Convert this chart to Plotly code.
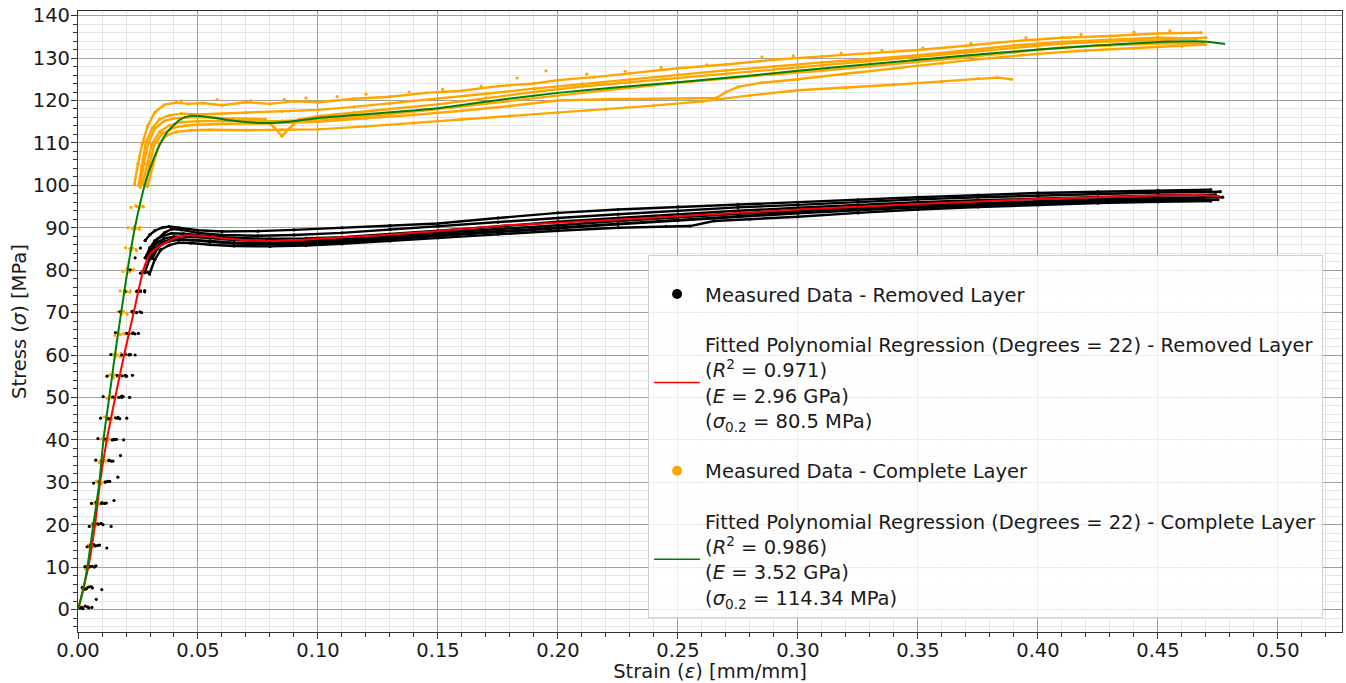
import plotly.graph_objects as go

# ---------------- data ----------------
# Complete Layer specimens (orange): elastic ramp (sparse dots) + flow part (dense)
O1_RAMP_STRAIN = [0.0005, 0.0018, 0.0031, 0.0043, 0.0055, 0.0066, 0.0077, 0.0088, 0.0099, 0.011, 0.0121, 0.0132, 0.0143, 0.0154, 0.0165, 0.0176, 0.0187, 0.0198, 0.0209, 0.0221, 0.0235, 0.025, 0.0268]
O1_RAMP_STRESS = [0.3, 4.9, 9.6, 15.2, 19.8, 25.1, 30.3, 34.7, 40.2, 45.4, 49.8, 55.3, 60.1, 64.6, 70.2, 75.1, 79.7, 85.3, 90.0, 94.8, 100.2, 105.1, 109.8]
O1_FLOW_STRAIN = [0.0268, 0.029, 0.032, 0.036, 0.041, 0.046, 0.052, 0.06, 0.07, 0.08, 0.09, 0.1, 0.115, 0.13, 0.145, 0.16, 0.175, 0.19, 0.2, 0.215, 0.23, 0.25, 0.27, 0.29, 0.31, 0.33, 0.35, 0.37, 0.39, 0.41, 0.43, 0.45, 0.468]
O1_FLOW_STRESS = [109.8, 114.0, 117.2, 119.0, 119.5, 119.2, 119.4, 118.9, 119.6, 119.2, 119.8, 119.6, 120.4, 120.9, 121.8, 122.3, 123.4, 124.0, 124.8, 125.5, 126.4, 127.6, 128.5, 129.6, 130.4, 131.2, 131.9, 132.9, 134.0, 134.8, 135.2, 135.8, 136.0]

O2_RAMP_STRAIN = [0.001, 0.0023, 0.0036, 0.0048, 0.006, 0.0072, 0.0084, 0.0096, 0.0108, 0.012, 0.0132, 0.0144, 0.0156, 0.0168, 0.018, 0.0192, 0.0204, 0.0216, 0.0228, 0.024, 0.0252, 0.0266, 0.0283]
O2_RAMP_STRESS = [0.5, 5.3, 10.1, 14.7, 20.2, 24.9, 29.8, 35.2, 40.1, 44.8, 50.3, 55.0, 59.7, 65.2, 70.0, 74.6, 80.3, 85.1, 89.7, 95.2, 100.0, 104.6, 110.2]
O2_FLOW_STRAIN = [0.0283, 0.031, 0.034, 0.038, 0.043, 0.05, 0.06, 0.07, 0.085, 0.1, 0.115, 0.13, 0.15, 0.17, 0.19, 0.21, 0.23, 0.25, 0.27, 0.29, 0.31, 0.33, 0.35, 0.37, 0.39, 0.41, 0.43, 0.45, 0.466]
O2_FLOW_STRESS = [110.2, 113.5, 115.6, 116.5, 116.9, 116.7, 116.9, 117.2, 117.5, 117.8, 118.5, 119.3, 120.4, 121.6, 122.8, 123.9, 125.0, 126.1, 127.1, 128.0, 129.0, 129.8, 130.7, 131.8, 133.0, 133.8, 134.3, 134.8, 134.6]

O3_RAMP_STRAIN = [0.0012, 0.0025, 0.0038, 0.0051, 0.0063, 0.0075, 0.0087, 0.0099, 0.0111, 0.0123, 0.0135, 0.0147, 0.0159, 0.0171, 0.0183, 0.0195, 0.0208, 0.0221, 0.0234, 0.0247, 0.026, 0.0275, 0.0293]
O3_RAMP_STRESS = [0.2, 4.7, 10.3, 15.0, 19.6, 25.3, 30.0, 34.9, 39.7, 45.2, 50.0, 54.6, 60.2, 64.9, 69.8, 75.3, 79.9, 84.7, 90.3, 95.0, 99.6, 105.3, 110.0]
O3_FLOW_STRAIN = [0.0293, 0.032, 0.036, 0.04, 0.045, 0.05, 0.06, 0.07, 0.078, 0.082, 0.085, 0.088, 0.092, 0.1, 0.115, 0.13, 0.15, 0.17, 0.19, 0.21, 0.23, 0.25, 0.27, 0.29, 0.31, 0.33, 0.35, 0.37, 0.39, 0.41, 0.43, 0.45, 0.47]
O3_FLOW_STRESS = [110.0, 113.4, 115.2, 115.8, 116.0, 116.1, 115.8, 115.7, 115.6, 113.5, 111.6, 113.4, 115.5, 116.3, 117.2, 118.0, 119.1, 120.6, 122.0, 123.3, 124.3, 125.3, 126.3, 127.2, 128.2, 129.2, 130.2, 131.3, 132.4, 133.4, 133.9, 134.2, 134.8]

O4_RAMP_STRAIN = [0.0015, 0.0028, 0.0041, 0.0054, 0.0066, 0.0078, 0.009, 0.0102, 0.0114, 0.0126, 0.0138, 0.015, 0.0163, 0.0176, 0.0189, 0.0202, 0.0215, 0.0228, 0.0241, 0.0255, 0.027, 0.0287, 0.0307]
O4_RAMP_STRESS = [0.6, 5.1, 9.7, 15.4, 20.0, 24.6, 30.1, 35.3, 40.0, 44.7, 49.9, 55.4, 60.0, 64.8, 70.3, 75.0, 79.6, 85.2, 89.9, 94.7, 100.3, 104.9, 109.7]
O4_FLOW_STRAIN = [0.0307, 0.034, 0.038, 0.043, 0.05, 0.06, 0.07, 0.085, 0.1, 0.115, 0.13, 0.15, 0.17, 0.19, 0.21, 0.23, 0.25, 0.27, 0.29, 0.31, 0.33, 0.35, 0.37, 0.39, 0.41, 0.43, 0.45, 0.469]
O4_FLOW_STRESS = [109.7, 112.6, 114.1, 114.9, 115.1, 115.2, 115.1, 115.2, 115.5, 116.1, 116.8, 118.0, 119.3, 120.6, 121.8, 123.0, 124.2, 125.2, 126.2, 127.0, 128.0, 129.1, 130.2, 131.4, 132.5, 133.0, 133.4, 133.5]

O5_RAMP_STRAIN = [0.0018, 0.0032, 0.0046, 0.0059, 0.0072, 0.0085, 0.0098, 0.0111, 0.0124, 0.0137, 0.015, 0.0163, 0.0176, 0.0189, 0.0202, 0.0215, 0.0228, 0.0241, 0.0255, 0.0269, 0.028, 0.0298, 0.0318]
O5_RAMP_STRESS = [0.4, 4.8, 10.0, 15.1, 19.7, 25.0, 29.6, 35.1, 39.8, 45.0, 50.2, 54.9, 59.6, 65.1, 69.9, 74.8, 80.0, 84.9, 89.6, 95.1, 99.9, 105.0, 109.6]
O5_FLOW_STRAIN = [0.0318, 0.035, 0.04, 0.045, 0.05, 0.06, 0.08, 0.1, 0.12, 0.14, 0.16, 0.18, 0.2, 0.22, 0.24, 0.255, 0.266, 0.27, 0.275, 0.285, 0.3, 0.32, 0.34, 0.36, 0.38, 0.4, 0.42, 0.44, 0.46, 0.47]
O5_FLOW_STRESS = [109.6, 112.2, 113.6, 114.1, 114.3, 114.5, 114.6, 115.0, 115.8, 116.6, 117.6, 118.7, 120.0, 120.3, 120.4, 120.5, 120.6, 122.0, 123.2, 124.2, 125.0, 126.3, 127.6, 128.8, 130.0, 131.0, 131.8, 132.3, 132.8, 133.2]

O6_RAMP_STRAIN = [0.002, 0.0034, 0.0048, 0.0062, 0.0075, 0.0088, 0.0101, 0.0114, 0.0127, 0.014, 0.0153, 0.0166, 0.0179, 0.0192, 0.0205, 0.0218, 0.0231, 0.0244, 0.0258, 0.0273, 0.029, 0.0312, 0.034]
O6_RAMP_STRESS = [0.3, 5.2, 9.9, 14.8, 20.3, 24.8, 29.9, 35.0, 40.3, 44.9, 49.7, 55.1, 60.4, 65.0, 69.6, 75.1, 80.2, 84.6, 90.1, 94.9, 99.7, 104.8, 109.9]
O6_FLOW_STRAIN = [0.034, 0.037, 0.041, 0.047, 0.055, 0.07, 0.085, 0.1, 0.12, 0.14, 0.16, 0.18, 0.2, 0.22, 0.24, 0.26, 0.28, 0.3, 0.32, 0.34, 0.36, 0.375, 0.383, 0.389]
O6_FLOW_STRESS = [109.9, 111.8, 112.6, 113.0, 113.1, 113.0, 113.1, 113.2, 113.9, 114.7, 115.6, 116.4, 117.2, 118.0, 118.8, 119.8, 121.2, 122.4, 123.0, 123.7, 124.5, 125.2, 125.4, 125.0]

# stray (noisy) dots of the Complete Layer data lying above the main band
O_STRAY_STRAIN = [0.043, 0.058, 0.072, 0.086, 0.095, 0.108, 0.12, 0.138, 0.152, 0.168, 0.183, 0.195, 0.212, 0.228, 0.243, 0.262, 0.285, 0.298, 0.318, 0.335, 0.352, 0.372, 0.395, 0.418, 0.44, 0.455]
O_STRAY_STRESS = [119.9, 120.2, 120.0, 120.3, 120.6, 120.9, 121.5, 122.0, 122.6, 123.4, 125.3, 127.0, 126.2, 126.9, 127.8, 128.4, 130.3, 130.5, 131.2, 131.8, 132.4, 133.5, 134.8, 135.6, 136.1, 136.4]

# Removed Layer specimens (black)
B1_RAMP_STRAIN = [0.0008, 0.0018, 0.0029, 0.0038, 0.0047, 0.0056, 0.0065, 0.0074, 0.0083, 0.0094, 0.0105, 0.0121, 0.0137, 0.0156, 0.0175, 0.0196, 0.0217, 0.0238, 0.026, 0.028, 0.030, 0.032]
B1_RAMP_STRESS = [0.3, 5.2, 10.1, 14.8, 19.6, 25.0, 29.8, 35.2, 40.3, 45.1, 50.2, 55.0, 60.1, 65.3, 70.2, 75.0, 80.1, 82.9, 85.2, 87.0, 88.4, 89.3]
B1_FLOW_STRAIN = [0.032, 0.035, 0.038, 0.042, 0.05, 0.06, 0.075, 0.09, 0.11, 0.13, 0.15, 0.175, 0.2, 0.225, 0.25, 0.275, 0.3, 0.325, 0.35, 0.375, 0.4, 0.425, 0.45, 0.472]
B1_FLOW_STRESS = [89.3, 90.0, 90.3, 90.0, 89.4, 89.1, 89.2, 89.5, 90.0, 90.5, 91.0, 92.3, 93.5, 94.3, 94.9, 95.5, 96.0, 96.6, 97.2, 97.7, 98.2, 98.5, 98.8, 99.0]

B2_RAMP_STRAIN = [0.0015, 0.0028, 0.004, 0.0052, 0.0064, 0.0076, 0.0088, 0.01, 0.0114, 0.0128, 0.0145, 0.0163, 0.0182, 0.0203, 0.0225, 0.0248, 0.027, 0.029, 0.031, 0.033]
B2_RAMP_STRESS = [0.5, 4.8, 9.9, 15.1, 20.2, 25.3, 30.1, 35.0, 40.2, 45.0, 50.1, 55.2, 60.0, 65.1, 70.3, 75.1, 79.8, 83.0, 85.5, 87.3]
B2_FLOW_STRAIN = [0.033, 0.036, 0.039, 0.043, 0.05, 0.06, 0.075, 0.09, 0.11, 0.13, 0.15, 0.175, 0.2, 0.225, 0.25, 0.275, 0.3, 0.325, 0.35, 0.375, 0.4, 0.425, 0.45, 0.476]
B2_FLOW_STRESS = [87.3, 88.8, 89.7, 89.5, 88.8, 88.3, 88.1, 88.3, 88.8, 89.6, 90.3, 91.3, 92.3, 93.2, 94.0, 94.8, 95.4, 96.1, 96.7, 97.2, 97.6, 98.0, 98.3, 98.5]

B3_RAMP_STRAIN = [0.003, 0.0044, 0.0058, 0.0072, 0.0086, 0.01, 0.0114, 0.0128, 0.0142, 0.0156, 0.017, 0.0184, 0.0198, 0.0213, 0.0228, 0.0244, 0.026, 0.028, 0.030, 0.032]
B3_RAMP_STRESS = [0.8, 5.3, 10.2, 15.0, 20.1, 25.2, 30.0, 35.1, 40.0, 45.2, 50.0, 55.1, 60.2, 65.0, 70.1, 75.0, 79.3, 82.9, 85.3, 86.9]
B3_FLOW_STRAIN = [0.032, 0.035, 0.039, 0.044, 0.055, 0.065, 0.08, 0.095, 0.11, 0.13, 0.15, 0.175, 0.2, 0.225, 0.25, 0.275, 0.3, 0.325, 0.35, 0.375, 0.4, 0.425, 0.45, 0.474]
B3_FLOW_STRESS = [86.9, 88.0, 88.7, 88.6, 88.0, 87.6, 87.4, 87.5, 87.8, 88.5, 89.3, 90.3, 91.4, 92.3, 93.2, 94.0, 94.7, 95.4, 96.0, 96.5, 96.9, 97.3, 97.6, 97.8]

B4_RAMP_STRAIN = [0.0045, 0.006, 0.0075, 0.009, 0.0104, 0.0118, 0.0132, 0.0146, 0.016, 0.0174, 0.0188, 0.0202, 0.0215, 0.0229, 0.0244, 0.026, 0.0275, 0.0292, 0.031, 0.033]
B4_RAMP_STRESS = [0.4, 5.1, 10.3, 15.2, 20.0, 25.1, 30.2, 35.0, 40.1, 45.0, 50.2, 55.0, 60.1, 65.2, 70.0, 75.0, 79.6, 82.8, 85.0, 86.5]
B4_FLOW_STRAIN = [0.033, 0.036, 0.04, 0.045, 0.055, 0.065, 0.08, 0.095, 0.11, 0.13, 0.15, 0.175, 0.2, 0.225, 0.25, 0.275, 0.3, 0.325, 0.35, 0.375, 0.4, 0.425, 0.45, 0.477]
B4_FLOW_STRESS = [86.5, 87.5, 87.9, 87.9, 87.6, 87.1, 86.8, 86.9, 87.3, 88.0, 88.7, 89.6, 90.6, 91.6, 92.5, 93.3, 94.0, 94.7, 95.3, 95.8, 96.3, 96.7, 97.0, 97.2]

B5_RAMP_STRAIN = [0.0058, 0.0076, 0.0099, 0.012, 0.0138, 0.015, 0.0166, 0.0177, 0.019, 0.0203, 0.0215, 0.0227, 0.0238, 0.0252, 0.0265, 0.0278, 0.029, 0.031, 0.033, 0.035]
B5_RAMP_STRESS = [0.5, 2.4, 4.7, 14.5, 19.6, 25.7, 31.2, 36.3, 40.0, 45.1, 50.0, 55.2, 60.0, 65.1, 70.0, 75.2, 79.5, 82.8, 85.0, 86.1]
B5_FLOW_STRAIN = [0.035, 0.038, 0.0425, 0.048, 0.055, 0.065, 0.08, 0.095, 0.11, 0.13, 0.15, 0.175, 0.2, 0.225, 0.25, 0.275, 0.3, 0.325, 0.35, 0.375, 0.4, 0.425, 0.45, 0.475]
B5_FLOW_STRESS = [86.1, 86.8, 87.2, 87.1, 86.7, 86.3, 86.1, 86.2, 86.6, 87.3, 88.0, 88.9, 89.8, 90.8, 91.7, 92.6, 93.4, 94.1, 94.8, 95.3, 95.8, 96.2, 96.5, 96.6]

B6_RAMP_STRAIN = [0.002, 0.0035, 0.005, 0.0066, 0.0082, 0.0098, 0.0114, 0.013, 0.0147, 0.0164, 0.0182, 0.02, 0.0219, 0.0238, 0.0258, 0.0278, 0.0298, 0.032, 0.0345]
B6_RAMP_STRESS = [0.2, 4.9, 10.1, 15.3, 20.2, 25.0, 30.1, 35.2, 40.0, 45.1, 50.3, 55.0, 60.1, 65.0, 70.2, 74.9, 79.1, 82.5, 84.8]
B6_FLOW_STRAIN = [0.0345, 0.038, 0.042, 0.047, 0.055, 0.065, 0.08, 0.095, 0.11, 0.13, 0.15, 0.175, 0.2, 0.225, 0.245, 0.255, 0.265, 0.28, 0.3, 0.325, 0.35, 0.375, 0.4, 0.425, 0.45, 0.472]
B6_FLOW_STRESS = [84.8, 85.9, 86.5, 86.4, 86.0, 85.7, 85.6, 85.8, 86.2, 86.9, 87.6, 88.5, 89.3, 90.0, 90.3, 90.4, 91.6, 92.0, 92.6, 93.5, 94.3, 94.9, 95.4, 95.8, 96.1, 96.3]

B7_RAMP_STRAIN = [0.004, 0.0054, 0.0068, 0.0082, 0.0096, 0.011, 0.0124, 0.0138, 0.0152, 0.0167, 0.0182, 0.0197, 0.0212, 0.0228, 0.0244, 0.026, 0.0278, 0.0298, 0.032]
B7_RAMP_STRESS = [0.6, 5.4, 10.0, 15.1, 20.3, 25.0, 30.2, 35.0, 40.1, 45.3, 50.0, 55.2, 60.0, 65.1, 70.0, 75.1, 79.4, 82.6, 85.0]
B7_FLOW_STRAIN = [0.032, 0.035, 0.039, 0.044, 0.055, 0.065, 0.08, 0.095, 0.11, 0.13, 0.15, 0.175, 0.2, 0.225, 0.25, 0.275, 0.3, 0.325, 0.35, 0.375, 0.4, 0.425, 0.45, 0.469]
B7_FLOW_STRESS = [85.0, 86.6, 87.3, 87.2, 86.9, 86.5, 86.3, 86.5, 86.9, 87.6, 88.3, 89.2, 90.1, 91.0, 91.9, 92.8, 93.6, 94.4, 95.0, 95.6, 96.1, 96.5, 96.8, 97.0]

# Fitted polynomial regression curves
GREEN_FIT_STRAIN = [0, 0.002, 0.0039, 0.0064, 0.0089, 0.0106, 0.013, 0.0154, 0.0185, 0.0215, 0.0237, 0.0258, 0.028, 0.0314, 0.034, 0.037, 0.0425, 0.047, 0.052, 0.058, 0.065, 0.076, 0.088, 0.1, 0.125, 0.15, 0.176, 0.2, 0.225, 0.25, 0.275, 0.3, 0.3425, 0.37, 0.4, 0.425, 0.447, 0.469, 0.478]
GREEN_FIT_STRESS = [0, 4.2, 10, 20, 30, 40, 50, 60, 72, 83, 90, 95.5, 100.5, 106.1, 109.5, 112.4, 115.5, 116.4, 116.3, 115.8, 115.2, 114.7, 115.0, 115.9, 117.0, 118.2, 120.2, 121.8, 123.1, 124.3, 125.6, 127.0, 129.2, 130.6, 132.0, 133.0, 133.7, 133.9, 133.3]
RED_FIT_STRAIN = [0, 0.002, 0.0043, 0.0071, 0.0092, 0.012, 0.0155, 0.0192, 0.0232, 0.0272, 0.030, 0.0335, 0.037, 0.0405, 0.0445, 0.051, 0.058, 0.065, 0.076, 0.088, 0.0994, 0.125, 0.1494, 0.176, 0.2186, 0.25, 0.275, 0.30, 0.35, 0.40, 0.45, 0.468, 0.476]
RED_FIT_STRESS = [0, 4.5, 10, 20, 30, 40, 50, 60, 70, 80, 83.8, 85.5, 86.6, 87.6, 88.2, 88.1, 87.7, 87.3, 86.9, 87.0, 87.4, 88.2, 89.2, 90.5, 91.7, 92.7, 93.5, 94.3, 95.6, 96.8, 97.6, 97.7, 97.4]

X_TICKS = [0.0, 0.05, 0.10, 0.15, 0.20, 0.25, 0.30, 0.35, 0.40, 0.45, 0.50]
X_TICK_TEXT = ["0.00", "0.05", "0.10", "0.15", "0.20", "0.25", "0.30", "0.35", "0.40", "0.45", "0.50"]
Y_TICKS = [0, 10, 20, 30, 40, 50, 60, 70, 80, 90, 100, 110, 120, 130, 140]
Y_TICK_TEXT = ["0", "10", "20", "30", "40", "50", "60", "70", "80", "90", "100", "110", "120", "130", "140"]

LEGEND_NAMES = [
    "Measured Data - Removed Layer",
    "Fitted Polynomial Regression (Degrees = 22) - Removed Layer<br>(<i>R</i><sup>2</sup> = 0.971)<br>(<i>E</i> = 2.96 GPa)<br>(<i>σ</i><sub>0.2</sub> = 80.5 MPa)",
    "Measured Data - Complete Layer",
    "Fitted Polynomial Regression (Degrees = 22) - Complete Layer<br>(<i>R</i><sup>2</sup> = 0.986)<br>(<i>E</i> = 3.52 GPa)<br>(<i>σ</i><sub>0.2</sub> = 114.34 MPa)",
]

ORANGE_SPECIMENS = [
    (O1_RAMP_STRAIN, O1_RAMP_STRESS, O1_FLOW_STRAIN, O1_FLOW_STRESS),
    (O2_RAMP_STRAIN, O2_RAMP_STRESS, O2_FLOW_STRAIN, O2_FLOW_STRESS),
    (O3_RAMP_STRAIN, O3_RAMP_STRESS, O3_FLOW_STRAIN, O3_FLOW_STRESS),
    (O4_RAMP_STRAIN, O4_RAMP_STRESS, O4_FLOW_STRAIN, O4_FLOW_STRESS),
    (O5_RAMP_STRAIN, O5_RAMP_STRESS, O5_FLOW_STRAIN, O5_FLOW_STRESS),
    (O6_RAMP_STRAIN, O6_RAMP_STRESS, O6_FLOW_STRAIN, O6_FLOW_STRESS),
]
BLACK_SPECIMENS = [
    (B1_RAMP_STRAIN, B1_RAMP_STRESS, B1_FLOW_STRAIN, B1_FLOW_STRESS),
    (B2_RAMP_STRAIN, B2_RAMP_STRESS, B2_FLOW_STRAIN, B2_FLOW_STRESS),
    (B3_RAMP_STRAIN, B3_RAMP_STRESS, B3_FLOW_STRAIN, B3_FLOW_STRESS),
    (B4_RAMP_STRAIN, B4_RAMP_STRESS, B4_FLOW_STRAIN, B4_FLOW_STRESS),
    (B5_RAMP_STRAIN, B5_RAMP_STRESS, B5_FLOW_STRAIN, B5_FLOW_STRESS),
    (B6_RAMP_STRAIN, B6_RAMP_STRESS, B6_FLOW_STRAIN, B6_FLOW_STRESS),
    (B7_RAMP_STRAIN, B7_RAMP_STRESS, B7_FLOW_STRAIN, B7_FLOW_STRESS),
]

ORANGE = "#FFA500"
BLACK = "#000000"
RED = "#FF0000"
GREEN = "#008000"
FONT = "DejaVu Sans"
TEXT_COLOR = "#1a1a1a"
FS = 19.5

fig = go.Figure()


def add_specimens(specimens, color, group, knee):
    for rx, ry, fx, fy in specimens:
        fig.add_trace(go.Scatter(x=rx, y=ry, mode="markers", marker=dict(size=3.2, color=color),
                                 showlegend=False, legendgroup=group, hoverinfo="skip"))
        # dense (slow) part of the record: from the knee of the ramp onwards
        lx = list(rx[-knee:]) + list(fx[1:])
        ly = list(ry[-knee:]) + list(fy[1:])
        fig.add_trace(go.Scatter(x=lx, y=ly, mode="lines+markers", line=dict(color=color, width=2.4),
                                 marker=dict(size=3.2, color=color),
                                 showlegend=False, legendgroup=group, hoverinfo="skip"))


add_specimens(ORANGE_SPECIMENS, ORANGE, "g3", 3)
fig.add_trace(go.Scatter(x=O_STRAY_STRAIN, y=O_STRAY_STRESS, mode="markers",
                         marker=dict(size=3.2, color=ORANGE), showlegend=False,
                         legendgroup="g3", hoverinfo="skip"))
add_specimens(BLACK_SPECIMENS, BLACK, "g1", 3)

fig.add_trace(go.Scatter(x=RED_FIT_STRAIN, y=RED_FIT_STRESS, mode="lines",
                         line=dict(color=RED, width=2, shape="spline", smoothing=0.6),
                         showlegend=False, legendgroup="g2"))
fig.add_trace(go.Scatter(x=GREEN_FIT_STRAIN, y=GREEN_FIT_STRESS, mode="lines",
                         line=dict(color=GREEN, width=2, shape="spline", smoothing=0.6),
                         showlegend=False, legendgroup="g4"))

# legend entries
fig.add_trace(go.Scatter(x=[None], y=[None], mode="markers", marker=dict(size=10, color=BLACK),
                         name=LEGEND_NAMES[0], legendgroup="g1", legendrank=1))
fig.add_trace(go.Scatter(x=[None], y=[None], mode="lines", line=dict(color=RED, width=1.5),
                         name=LEGEND_NAMES[1], legendgroup="g2", legendrank=2))
fig.add_trace(go.Scatter(x=[None], y=[None], mode="markers", marker=dict(size=10, color=ORANGE),
                         name=LEGEND_NAMES[2], legendgroup="g3", legendrank=3))
fig.add_trace(go.Scatter(x=[None], y=[None], mode="lines", line=dict(color=GREEN, width=1.5),
                         name=LEGEND_NAMES[3], legendgroup="g4", legendrank=4))

axis_common = dict(
    showline=True, linecolor="#333333", linewidth=1.2, mirror=True,
    ticks="outside", ticklen=6, tickwidth=1, tickcolor="#333333",
    showgrid=True, gridcolor="#a0a0a0", gridwidth=1,
    zeroline=False,
    tickfont=dict(family=FONT, size=FS, color=TEXT_COLOR),
)

fig.update_xaxes(
    range=[0, 0.5267], tickmode="array", tickvals=X_TICKS, ticktext=X_TICK_TEXT,
    ticklabelstandoff=-6,
    minor=dict(dtick=0.01, tick0=0, ticks="outside", ticklen=3.5, tickcolor="#333333",
               showgrid=True, gridcolor="#e4e4e4", gridwidth=1),
    title=dict(text="Strain (<i>ε</i>) [mm/mm]", font=dict(family=FONT, size=FS, color=TEXT_COLOR), standoff=4),
    **axis_common,
)
fig.update_yaxes(
    range=[-5.3, 141.1], tickmode="array", tickvals=Y_TICKS, ticktext=Y_TICK_TEXT,
    ticklabelstandoff=-3,
    minor=dict(dtick=2, tick0=0, ticks="outside", ticklen=3.5, tickcolor="#333333",
               showgrid=True, gridcolor="#e4e4e4", gridwidth=1),
    title=dict(text="Stress (<i>σ</i>) [MPa]", font=dict(family=FONT, size=FS, color=TEXT_COLOR), standoff=0),
    **axis_common,
)

fig.update_layout(
    width=1346, height=683,
    margin=dict(l=78, r=4, t=11, b=51, autoexpand=False),
    paper_bgcolor="white", plot_bgcolor="white",
    font=dict(family=FONT, size=FS, color=TEXT_COLOR),
    legend=dict(
        x=0.451, y=0.607, xanchor="left", yanchor="top",
        bgcolor="rgba(255,255,255,0.8)", bordercolor="#d0d0d0", borderwidth=1,
        font=dict(family=FONT, size=FS, color=TEXT_COLOR),
        title=dict(text=" ", font=dict(size=14.5)),
        tracegroupgap=22, itemwidth=46, traceorder="grouped",
    ),
)

fig.write_html("out.html")
